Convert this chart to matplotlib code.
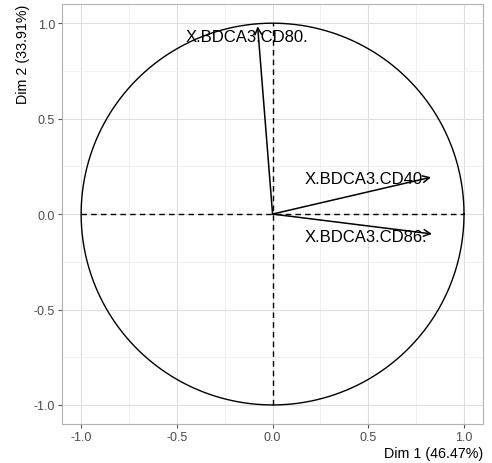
import numpy as np
import matplotlib
matplotlib.use("Agg")
import matplotlib.pyplot as plt

plt.rcParams['font.family'] = ['Liberation Sans', 'DejaVu Sans']

variables = ["X.BDCA3.CD80.", "X.BDCA3.CD40", "X.BDCA3.CD86."]
dim1 = [-0.078, 0.828, 0.833]
dim2 = [0.984, 0.193, -0.104]
label_x = [-0.135, 0.474, 0.49]
label_y = [0.93, 0.187, -0.12]
xlabel = "Dim 1 (46.47%)"
ylabel = "Dim 2 (33.91%)"
ticks = [-1.0, -0.5, 0.0, 0.5, 1.0]
minor = [-0.75, -0.25, 0.25, 0.75]

fig = plt.figure(figsize=(4.92, 4.64), dpi=100)
ax = fig.add_axes([0.126, 0.084, 0.856, 0.905])
ax.set_xlim(-1.1, 1.1)
ax.set_ylim(-1.1, 1.1)

ax.set_xticks(ticks)
ax.set_yticks(ticks)
ax.set_xticks(minor, minor=True)
ax.set_yticks(minor, minor=True)
ax.set_xticklabels([f"{t:.1f}" for t in ticks])
ax.set_yticklabels([f"{t:.1f}" for t in ticks])
ax.grid(True, which="major", color="#dedede", linewidth=0.8)
ax.grid(True, which="minor", color="#ececec", linewidth=0.5)
ax.set_axisbelow(True)
ax.tick_params(which="major", length=3, color="#555555", labelcolor="#4d4d4d",
               labelsize=9, pad=2)
ax.tick_params(which="minor", length=0)
for s in ax.spines.values():
    s.set_color("#b3b3b3")
    s.set_linewidth(0.8)

t = np.linspace(0, 2 * np.pi, 400)
ax.plot(np.cos(t), np.sin(t), color="black", linewidth=1.0)
ax.plot([-1, 1], [0, 0], color="black", linestyle=(0, (4, 3)), linewidth=1.0)
ax.plot([0, 0], [-1, 1], color="black", linestyle=(0, (4, 3)), linewidth=1.0)

for x, y in zip(dim1, dim2):
    ax.annotate("", xy=(x, y), xytext=(0, 0),
                arrowprops=dict(arrowstyle="->", color="black", lw=1.1,
                                mutation_scale=12, shrinkA=0, shrinkB=0))
for name, lx, ly in zip(variables, label_x, label_y):
    ax.text(lx, ly, name, ha="center", va="center", fontsize=12, color="black")

ax.set_xlabel(xlabel, fontsize=10.3, loc="right", labelpad=2)
ax.set_ylabel(ylabel, fontsize=10.3, loc="top", labelpad=3)

fig.savefig("out.png", dpi=100)
